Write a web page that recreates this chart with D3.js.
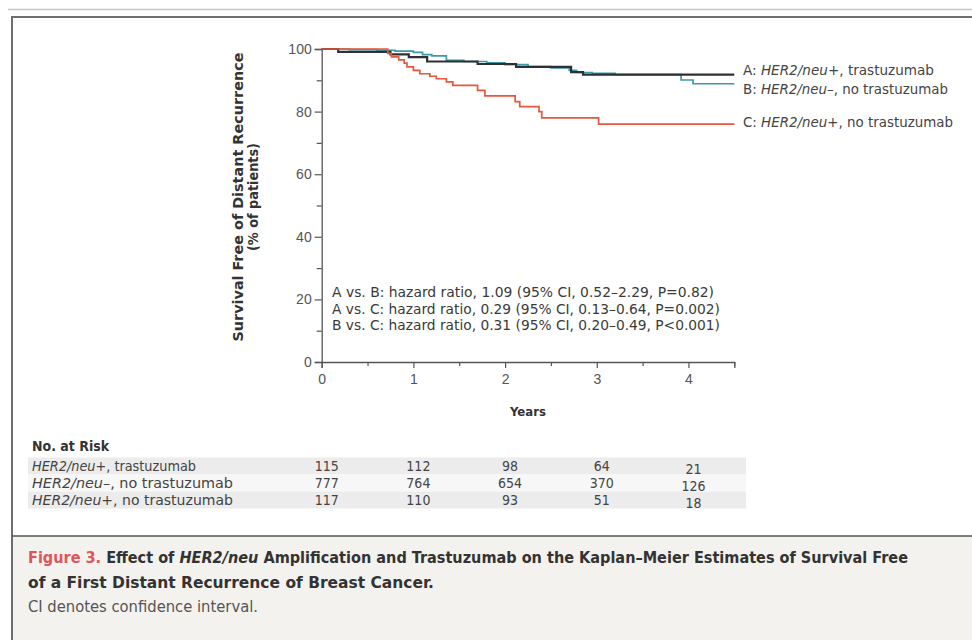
<!DOCTYPE html>
<html>
<head>
<meta charset="utf-8">
<script src="https://cdn.jsdelivr.net/npm/d3@7"></script>
<style>
  body { margin: 0; background: #fff; }
  svg { display: block; font-family: "DejaVu Sans Condensed", "Liberation Sans Narrow", "Open Sans", sans-serif; }
</style>
</head>
<body>
<div id="chart"></div>
<script>
// Kaplan-Meier steps: [years, % free of distant recurrence]
const seriesA = [[0, 100], [0.18, 99.1], [0.75, 98.3], [0.95, 97.4], [1.15, 96.0], [1.7, 95.2],
  [2.12, 94.3], [2.72, 92.6], [2.85, 91.8], [4.5, 91.8]];
const seriesB = [[0, 100], [0.3, 99.8], [0.6, 99.6], [0.8, 99.3], [1.0, 98.9], [1.1, 98.2], [1.2, 97.8],
  [1.36, 96.4], [1.55, 96.0], [1.8, 95.6], [2.0, 95.0], [2.25, 94.4], [2.5, 94.0], [2.7, 93.2],
  [2.78, 92.5], [2.95, 92.2], [3.2, 91.8], [3.92, 90.1], [4.05, 88.9], [4.5, 88.9]];
const seriesC = [[0, 100], [0.72, 98.6], [0.76, 97.5], [0.84, 96.5], [0.9, 95.5], [0.93, 94.3],
  [1.0, 93.2], [1.07, 92.1], [1.18, 91.3], [1.25, 90.5], [1.36, 89.5], [1.43, 88.4], [1.7, 86.8],
  [1.78, 85.0], [2.11, 83.2], [2.16, 81.6], [2.37, 80.0], [2.4, 78.0], [3.02, 76.0], [4.5, 76.0]];

const groupKeys = ['A', 'B', 'C'];
const groupSign = ['+', '\u2013', '+'];
const groupTreat = ['trastuzumab', 'no trastuzumab', 'no trastuzumab'];
const groupColors = ['#2e3133', '#3d98ab', '#e8573d'];

const xTicks = [0, 1, 2, 3, 4];
const yTicks = [0, 20, 40, 60, 80, 100];

const hazardLines = [
  'A vs. B: hazard ratio, 1.09 (95% CI, 0.52\u20132.29, P=0.82)',
  'A vs. C: hazard ratio, 0.29 (95% CI, 0.13\u20130.64, P=0.002)',
  'B vs. C: hazard ratio, 0.31 (95% CI, 0.20\u20130.49, P<0.001)'
];

const riskA = [115, 112, 98, 64, 21];
const riskB = [777, 764, 654, 370, 126];
const riskC = [117, 110, 93, 51, 18];

const W = 972, H = 640;
const svg = d3.select('#chart').append('svg').attr('width', W).attr('height', H);

// frame and caption panel
svg.append('rect').attr('x', 12).attr('y', 536).attr('width', W - 12).attr('height', H - 536).attr('fill', '#f4f2ee');
svg.append('line').attr('x1', 8).attr('x2', W).attr('y1', 9.5).attr('y2', 9.5).attr('stroke', '#c4c4c4').attr('stroke-width', 1.5);
svg.append('line').attr('x1', 11).attr('x2', W).attr('y1', 17).attr('y2', 17).attr('stroke', '#6e6e6e').attr('stroke-width', 2);
svg.append('line').attr('x1', 12).attr('x2', 12).attr('y1', 16).attr('y2', H).attr('stroke', '#6e6e6e').attr('stroke-width', 2);
svg.append('line').attr('x1', 12).attr('x2', W).attr('y1', 536).attr('y2', 536).attr('stroke', '#555').attr('stroke-width', 1.5);

const x = d3.scaleLinear().domain([0, 4.5]).range([321.7, 734.3]);
const y = d3.scaleLinear().domain([0, 100]).range([362, 49]);

const g = svg.append('g');

// y axis
g.append('g').attr('transform', `translate(${x(0)},0)`)
  .call(d3.axisLeft(y).tickValues(yTicks).tickSize(7).tickPadding(3));
g.append('g').attr('transform', `translate(${x(0)},0)`)
  .call(d3.axisLeft(y).tickValues([10, 30, 50, 70, 90]).tickSize(5).tickFormat(''))
  .select('.domain').remove();

// x axis
g.append('g').attr('transform', `translate(0,${y(0)})`)
  .call(d3.axisBottom(x).tickValues(xTicks).tickSize(6).tickPadding(6).tickFormat(d3.format('d')));
g.append('g').attr('transform', `translate(0,${y(0)})`)
  .call(d3.axisBottom(x).tickValues([0.5, 1.5, 2.5, 3.5, 4.5]).tickSize(4).tickFormat(''))
  .select('.domain').remove();

g.selectAll('.domain').attr('stroke', '#555').attr('stroke-width', 1.3);
g.selectAll('.tick line').attr('stroke', '#555').attr('stroke-width', 1.2);
g.selectAll('.tick text').attr('fill', '#555').style('font-size', '14px');

// axis titles
svg.append('text').attr('transform', 'translate(243,197) rotate(-90)')
  .attr('text-anchor', 'middle').attr('textLength', 289).attr('lengthAdjust', 'spacingAndGlyphs')
  .style('font-size', '14px').style('font-weight', 'bold').attr('fill', '#333')
  .text('Survival Free of Distant Recurrence');
svg.append('text').attr('transform', 'translate(258,197) rotate(-90)')
  .attr('text-anchor', 'middle').attr('textLength', 108).attr('lengthAdjust', 'spacingAndGlyphs')
  .style('font-size', '14px').style('font-weight', 'bold').attr('fill', '#333')
  .text('(% of patients)');
svg.append('text').attr('x', x(2.25)).attr('y', 416).attr('text-anchor', 'middle')
  .style('font-size', '13px').style('font-weight', 'bold').attr('fill', '#333').text('Years');

// curves
const line = d3.line().x(d => x(d[0])).y(d => y(d[1])).curve(d3.curveStepAfter);
[seriesB, seriesA, seriesC].forEach((s, i) => {
  const idx = [1, 0, 2][i];
  g.append('path').datum(s).attr('d', line).attr('fill', 'none')
    .attr('stroke', groupColors[idx]).attr('stroke-width', idx === 0 ? 2.2 : 1.7);
});

// curve labels
const labelY = [70, 89, 122];
const labelLen = [191, 205, 210];
groupKeys.forEach((k, i) => {
  const t = svg.append('text').attr('x', 743).attr('y', labelY[i]).attr('dy', '0.35em')
    .attr('textLength', labelLen[i]).attr('lengthAdjust', 'spacingAndGlyphs')
    .style('font-size', '14px').attr('fill', '#444');
  t.append('tspan').text(k + ': ');
  t.append('tspan').style('font-style', 'italic').text('HER2/neu');
  t.append('tspan').text(groupSign[i] + ', ' + groupTreat[i]);
});

// hazard ratios
const hazLen = [382, 388, 388];
hazardLines.forEach((txt, i) => {
  svg.append('text').attr('x', 332).attr('y', 292 + i * 16.7).attr('dy', '0.35em')
    .attr('textLength', hazLen[i]).attr('lengthAdjust', 'spacingAndGlyphs')
    .style('font-size', '14px').attr('fill', '#3a3a3a').text(txt);
});

// number at risk table
svg.append('text').attr('x', 32).attr('y', 446).attr('dy', '0.35em')
  .style('font-size', '14px').style('font-weight', 'bold').attr('fill', '#333').text('No. at Risk');
const riskRows = [riskA, riskB, riskC];
const rowY = [466, 483, 500];
const rowFill = ['#ececec', '#f7f7f7', '#ececec'];
const rowLen = [164, 201, 201];
riskRows.forEach((vals, i) => {
  svg.append('rect').attr('x', 28).attr('y', rowY[i] - 8.5).attr('width', 718).attr('height', 17)
    .attr('fill', rowFill[i]);
});
riskRows.forEach((vals, i) => {
  const t = svg.append('text').attr('x', 32).attr('y', rowY[i]).attr('dy', '0.35em')
    .attr('textLength', rowLen[i]).attr('lengthAdjust', 'spacingAndGlyphs')
    .style('font-size', '14px').attr('fill', '#444');
  t.append('tspan').style('font-style', 'italic').text('HER2/neu');
  t.append('tspan').text(groupSign[i] + ', ' + groupTreat[i]);
  svg.selectAll(null).data(vals).enter().append('text')
    .attr('x', (d, j) => x(xTicks[j]) + 5)
    .attr('y', (d, j) => rowY[i] + (j === 4 ? 3 : 0))
    .attr('dy', '0.35em').attr('text-anchor', 'middle')
    .style('font-size', '14px').attr('fill', '#444').text(d => d);
});

// caption
const cap1 = svg.append('text').attr('x', 28).attr('y', 558).attr('dy', '0.35em')
  .attr('textLength', 880).attr('lengthAdjust', 'spacingAndGlyphs')
  .style('font-size', '15px').style('font-weight', 'bold').attr('fill', '#333');
cap1.append('tspan').attr('fill', '#e0555a').text('Figure 3. ');
cap1.append('tspan').text('Effect of ');
cap1.append('tspan').style('font-style', 'italic').text('HER2/neu');
cap1.append('tspan').text(' Amplification and Trastuzumab on the Kaplan\u2013Meier Estimates of Survival Free');
svg.append('text').attr('x', 28).attr('y', 583).attr('dy', '0.35em')
  .attr('textLength', 406).attr('lengthAdjust', 'spacingAndGlyphs')
  .style('font-size', '15px').style('font-weight', 'bold').attr('fill', '#333')
  .text('of a First Distant Recurrence of Breast Cancer.');
svg.append('text').attr('x', 28).attr('y', 607).attr('dy', '0.35em')
  .attr('textLength', 230).attr('lengthAdjust', 'spacingAndGlyphs')
  .style('font-size', '15px').attr('fill', '#555')
  .text('CI denotes confidence interval.');
</script>
</body>
</html>
